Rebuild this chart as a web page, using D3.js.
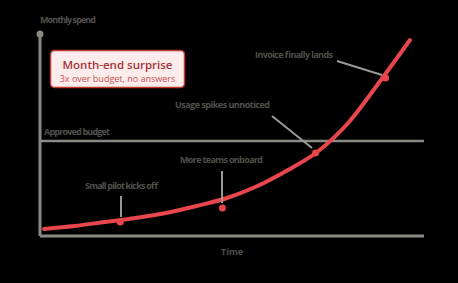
<!DOCTYPE html>
<html lang="en">
<head>
<meta charset="UTF-8">
<title>Month-end surprise</title>
<style>
  body { margin: 0; background: #000; }
  * { font-family: 'Open Sans', sans-serif; }
  .lbl { font-size: 9px; font-weight: 700; fill: #50504b; }
</style>
</head>
<body>
<div id="container"></div>
<script src="https://d3js.org/d3.v7.min.js"></script>
<script>
  // time steps and monthly spend (share of axis height)
  const months = [0, 1, 2, 3, 4, 5, 6, 7, 8, 9, 10, 11, 12];
  const spend = [3.5, 5, 7, 9, 11.5, 15, 19, 25, 33, 42.5, 57, 77, 98];
  const budget = 47.5;

  // annotated events along the curve
  const eventTimes = [2.5, 5.85, 8.9, 11.2];
  const eventValues = [7, 14, 41.5, 79];
  const eventLabels = ["Small pilot kicks off", "More teams onboard", "Usage spikes unnoticed", "Invoice finally lands"];

  const width = 458, height = 283;
  const x = d3.scaleLinear().domain([0, 12]).range([44, 410]);
  const y = d3.scaleLinear().domain([0, 100]).range([236, 36]);

  const svg = d3.select('#container').append('svg')
    .attr('width', width).attr('height', height);

  // axes (plain lines, no ticks)
  svg.append('line').attr('x1', 40).attr('x2', 40).attr('y1', 34).attr('y2', 236)
    .attr('stroke', '#8a8a82').attr('stroke-width', 3);
  svg.append('circle').attr('cx', 40).attr('cy', 34).attr('r', 3.5).attr('fill', '#8a8a82');
  svg.append('line').attr('x1', 40).attr('x2', 424).attr('y1', 236).attr('y2', 236)
    .attr('stroke', '#8a8a82').attr('stroke-width', 3);

  // budget line
  svg.append('line').attr('x1', 40).attr('x2', 424).attr('y1', y(budget)).attr('y2', y(budget))
    .attr('stroke', '#8a8a82').attr('stroke-width', 2.5);
  svg.append('text').attr('class', 'lbl').attr('x', 44).attr('y', y(budget) - 6)
    .attr('textLength', 66).text('Approved budget');

  svg.append('text').attr('class', 'lbl').attr('x', 40).attr('y', 23)
    .attr('textLength', 56).text('Monthly spend');
  svg.append('text').attr('class', 'lbl').attr('x', 232).attr('y', 255)
    .attr('text-anchor', 'middle').text('Time');

  // spend curve
  const line = d3.line().x((d, i) => x(months[i])).y(d => y(d)).curve(d3.curveMonotoneX);
  svg.append('path').datum(spend).attr('fill', 'none')
    .attr('stroke', '#e8454d').attr('stroke-width', 4).attr('stroke-linecap', 'round')
    .attr('d', line);

  // event leaders, labels and dots
  const labelPos = [
    { lx: 85, ly: 189, w: 73, l1: [121, 196], l2: [121, 217] },
    { lx: 180, ly: 163, w: 83, l1: [222, 171], l2: [222, 203] },
    { lx: 175, ly: 108, w: 95, l1: [272, 116], l2: [312, 148] },
    { lx: 255, ly: 58, w: 78, l1: [337, 61], l2: [382, 75] }
  ];
  eventTimes.forEach((t, i) => {
    const p = labelPos[i];
    svg.append('line').attr('x1', p.l1[0]).attr('y1', p.l1[1]).attr('x2', p.l2[0]).attr('y2', p.l2[1])
      .attr('stroke', '#9a9a94').attr('stroke-width', 2);
    svg.append('text').attr('class', 'lbl').attr('x', p.lx).attr('y', p.ly)
      .attr('textLength', p.w).text(eventLabels[i]);
    svg.append('circle').attr('cx', x(t)).attr('cy', y(eventValues[i])).attr('r', 3.5)
      .attr('fill', '#e8454d');
  });

  // callout box
  const box = svg.append('g');
  box.append('rect').attr('x', 50.5).attr('y', 50.5).attr('width', 134).attr('height', 37)
    .attr('rx', 4).attr('fill', '#fdeceb').attr('stroke', '#c0392f').attr('stroke-width', 1.5);
  box.append('text').attr('x', 117.5).attr('y', 69).attr('text-anchor', 'middle')
    .attr('font-size', 11.5).attr('font-weight', 600).attr('fill', '#a3353a')
    .text('Month-end surprise');
  box.append('text').attr('x', 117.5).attr('y', 82).attr('text-anchor', 'middle')
    .attr('font-size', 9).attr('fill', '#c5504f')
    .text('3x over budget, no answers');
</script>
</body>
</html>
